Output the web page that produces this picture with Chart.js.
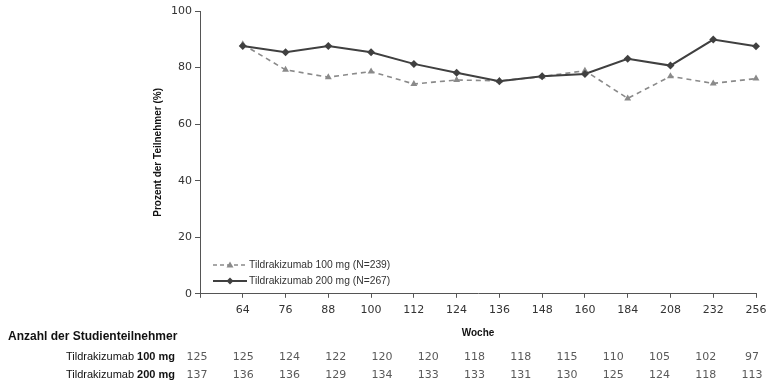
<!DOCTYPE html>
<html>
<head>
<meta charset="utf-8">
<script src="https://cdn.jsdelivr.net/npm/chart.js@4.4.1/dist/chart.umd.min.js"></script>
<style>
  html, body { margin: 0; padding: 0; background: #fff; }
  #wrap { position: relative; width: 784px; height: 386px; }
</style>
</head>
<body>
<div id="wrap"><canvas id="chart" width="784" height="386"></canvas></div>
<script>
// weeks on the x axis (first slot stays empty, like the original)
const weeks = ['64', '76', '88', '100', '112', '124', '136', '148', '160', '184', '208', '232', '256'];
const pct100 = [88.2, 79.2, 76.6, 78.6, 74.2, 75.6, 75.3, 76.8, 78.9, 69.1, 76.9, 74.4, 76.1];
const pct200 = [87.6, 85.4, 87.6, 85.4, 81.3, 78.2, 75.2, 76.9, 77.7, 83.1, 80.7, 89.9, 87.5];
const label100 = 'Tildrakizumab 100 mg (N=239)';
const label200 = 'Tildrakizumab 200 mg (N=267)';

// number of participants table under the chart
const n100 = [125, 125, 124, 122, 120, 120, 118, 118, 115, 110, 105, 102, 97];
const n200 = [137, 136, 136, 129, 134, 133, 133, 131, 130, 125, 124, 118, 113];

const grey = '#8a8a8a';
const dark = '#404040';
const axisColor = '#555';

const legendInside = {
  id: 'legendInside',
  afterDraw(chart) {
    const ctx = chart.ctx;
    const items = [
      { text: label100, color: grey, dash: [4, 3], style: 'tri', y: 265 },
      { text: label200, color: dark, dash: [], style: 'dia', y: 281 },
    ];
    ctx.save();
    items.forEach((it) => {
      ctx.strokeStyle = it.color;
      ctx.lineWidth = it.style === 'dia' ? 2 : 1.6;
      ctx.setLineDash(it.dash);
      ctx.beginPath();
      ctx.moveTo(213, it.y);
      ctx.lineTo(247, it.y);
      ctx.stroke();
      ctx.setLineDash([]);
      ctx.fillStyle = it.color;
      ctx.beginPath();
      if (it.style === 'tri') {
        ctx.moveTo(230, it.y - 3.5);
        ctx.lineTo(233.5, it.y + 2.5);
        ctx.lineTo(226.5, it.y + 2.5);
      } else {
        ctx.moveTo(230, it.y - 3.5);
        ctx.lineTo(233.5, it.y);
        ctx.lineTo(230, it.y + 3.5);
        ctx.lineTo(226.5, it.y);
      }
      ctx.closePath();
      ctx.fill();
      ctx.fillStyle = '#333';
      ctx.font = '10.3px "Liberation Sans", Arial, sans-serif';
      ctx.textAlign = 'left';
      ctx.textBaseline = 'middle';
      ctx.fillText(it.text, 249, it.y);
    });
    ctx.restore();
  },
};

const countTable = {
  id: 'countTable',
  afterDraw(chart) {
    const ctx = chart.ctx;
    const xs = chart.scales.x;
    const x0 = xs.left - 3;
    const step = (xs.right - xs.left - 1) / (n100.length - 1);
    ctx.save();
    ctx.fillStyle = '#111';
    ctx.font = 'bold 12px "Liberation Sans", Arial, sans-serif';
    ctx.textAlign = 'left';
    ctx.textBaseline = 'middle';
    ctx.fillText('Anzahl der Studienteilnehmer', 8, 337);

    const rows = [
      { dose: '100 mg', vals: n100, y: 357 },
      { dose: '200 mg', vals: n200, y: 375 },
    ];
    rows.forEach((r) => {
      ctx.font = 'bold 11px "Liberation Sans", Arial, sans-serif';
      const doseW = ctx.measureText(r.dose).width;
      ctx.fillStyle = '#111';
      ctx.textAlign = 'right';
      ctx.fillText(r.dose, 175, r.y);
      ctx.font = '11px "Liberation Sans", Arial, sans-serif';
      ctx.fillText('Tildrakizumab ', 175 - doseW, r.y);
      ctx.font = '11px "DejaVu Sans", sans-serif';
      ctx.fillStyle = '#5a5a5a';
      ctx.textAlign = 'center';
      r.vals.forEach((v, i) => {
        ctx.fillText(String(v), x0 + i * step, r.y);
      });
    });
    ctx.restore();
  },
};

new Chart(document.getElementById('chart'), {
  type: 'line',
  data: {
    labels: [''].concat(weeks),
    datasets: [
      {
        label: label100,
        data: [null].concat(pct100),
        borderColor: grey,
        backgroundColor: grey,
        borderWidth: 1.6,
        borderDash: [5, 4],
        pointStyle: 'triangle',
        pointRadius: 4,
        pointBorderWidth: 0,
        tension: 0,
        order: 2,
      },
      {
        label: label200,
        data: [null].concat(pct200),
        borderColor: dark,
        backgroundColor: dark,
        borderWidth: 2,
        pointStyle: 'rectRot',
        pointRadius: 4,
        pointBorderWidth: 0,
        tension: 0,
        order: 1,
      },
    ],
  },
  options: {
    responsive: false,
    animation: false,
    layout: { padding: { left: 152, right: 28, top: 11, bottom: 47 } },
    plugins: {
      legend: { display: false },
      tooltip: { enabled: false },
    },
    scales: {
      x: {
        offset: false,
        grid: { display: true, drawOnChartArea: false, color: axisColor, tickLength: 4 },
        border: { color: axisColor, width: 1 },
        ticks: {
          autoSkip: false,
          maxRotation: 0,
          color: '#333',
          padding: 6,
          font: { family: 'DejaVu Sans', size: 11 },
        },
        title: {
          display: true,
          text: 'Woche',
          color: '#111',
          font: { family: 'Liberation Sans', size: 10, weight: 'bold' },
          padding: { top: 4, bottom: 0 },
        },
      },
      y: {
        min: 0,
        max: 100,
        afterFit(scale) { scale.width = 48; },
        grid: { display: true, drawOnChartArea: false, color: axisColor, tickLength: 5 },
        border: { color: axisColor, width: 1 },
        ticks: {
          stepSize: 20,
          color: '#333',
          padding: 3,
          font: { family: 'DejaVu Sans', size: 11 },
        },
        title: {
          display: true,
          text: 'Prozent der Teilnehmer (%)',
          color: '#111',
          font: { family: 'Liberation Sans', size: 10, weight: 'bold' },
          padding: 0,
        },
      },
    },
  },
  plugins: [legendInside, countTable],
});
</script>
</body>
</html>
